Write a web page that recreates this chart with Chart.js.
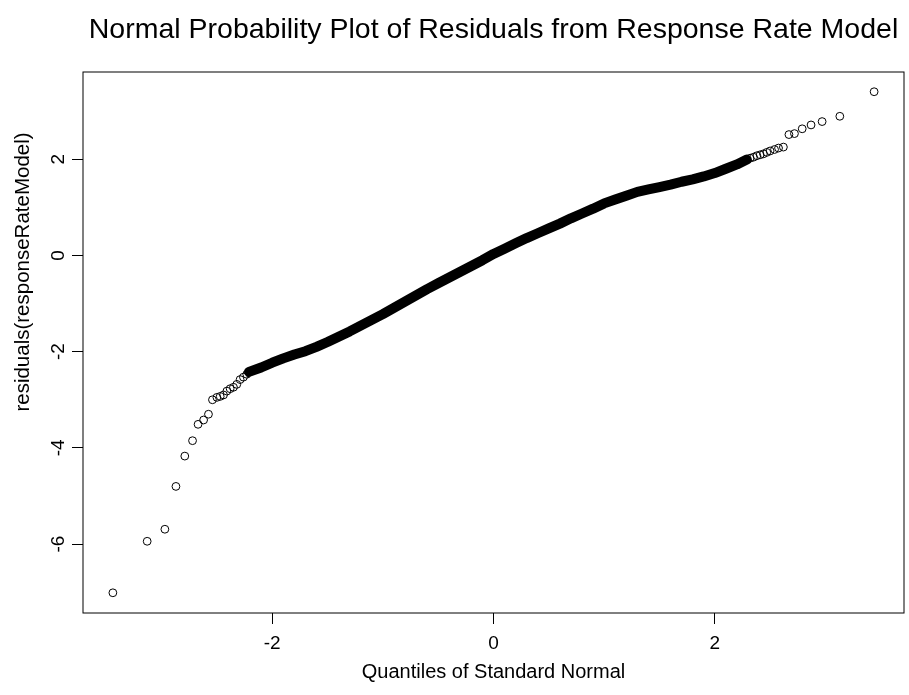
<!DOCTYPE html>
<html>
<head>
<meta charset="utf-8">
<script src="https://cdn.jsdelivr.net/npm/chart.js@4.4.1/dist/chart.umd.min.js"></script>
<style>
  html, body { margin: 0; padding: 0; background: #fff; }
  #wrap { width: 909px; height: 695px; }
</style>
</head>
<body>
<div id="wrap"><canvas id="myChart"></canvas></div>
<script>
// dense middle of the plot (points overlap into a solid band)
let bandX = [-2.21, -2.1, -2.0, -1.9, -1.8, -1.7, -1.6, -1.5, -1.4, -1.3, -1.2, -1.1, -1.0,
  -0.9, -0.8, -0.7, -0.6, -0.5, -0.4, -0.3, -0.2, -0.1, 0, 0.1, 0.2, 0.3, 0.4, 0.5,
  0.6, 0.7, 0.8, 0.9, 1.0, 1.1, 1.2, 1.3, 1.4, 1.5, 1.6, 1.7, 1.8, 1.9, 2.0, 2.1, 2.2, 2.29];
let bandY = [-2.42, -2.33, -2.23, -2.14, -2.06, -1.99, -1.90, -1.80, -1.69, -1.58, -1.46, -1.34, -1.22,
  -1.09, -0.96, -0.83, -0.70, -0.58, -0.46, -0.34, -0.22, -0.10, 0.03, 0.14, 0.25, 0.36, 0.46, 0.56,
  0.66, 0.77, 0.87, 0.97, 1.08, 1.16, 1.24, 1.32, 1.37, 1.42, 1.47, 1.53, 1.58, 1.64, 1.71, 1.80, 1.89, 1.99];

// separate circles in the two tails
let tailX = [-3.44, -3.13, -2.97, -2.87, -2.79, -2.72, -2.67, -2.62, -2.576, -2.54, -2.50, -2.47,
  -2.44, -2.41, -2.38, -2.35, -2.32, -2.29, -2.26, -2.23,
  2.29, 2.32, 2.35, 2.38, 2.41, 2.44, 2.47, 2.50, 2.54, 2.576, 2.62, 2.67, 2.72, 2.79, 2.87, 2.97, 3.13, 3.44];
let tailY = [-7.01, -5.94, -5.69, -4.80, -4.17, -3.85, -3.51, -3.42, -3.30, -3.00, -2.95, -2.93,
  -2.90, -2.82, -2.77, -2.74, -2.68, -2.58, -2.53, -2.47,
  1.99, 2.02, 2.04, 2.07, 2.09, 2.11, 2.14, 2.17, 2.20, 2.23, 2.25, 2.51, 2.53, 2.63, 2.71, 2.78, 2.89, 3.40];

let xTicks = [-2, 0, 2];
let yTicks = [-6, -4, -2, 0, 2];

let band = bandX.map((x, i) => ({ x: x, y: bandY[i] }));
let tails = tailX.map((x, i) => ({ x: x, y: tailY[i] }));

const FONT = "'Liberation Sans', Arial, Helvetica, sans-serif";
const yLabel = "residuals(responseRateModel)";

// box around the plot region (like R's box()) and the y axis label
const frame = {
  id: "frame",
  afterDraw(chart) {
    const a = chart.chartArea;
    const ctx = chart.ctx;
    ctx.save();
    ctx.strokeStyle = "#000";
    ctx.lineWidth = 1;
    ctx.strokeRect(a.left, a.top, a.right - a.left, a.bottom - a.top);

    // ylab sits a bit above the middle of the plot in the original
    ctx.translate(23, 272);
    ctx.rotate(-Math.PI / 2);
    ctx.fillStyle = "#000";
    ctx.font = "20.5px " + FONT;
    ctx.textAlign = "center";
    ctx.textBaseline = "middle";
    ctx.fillText(yLabel, 0, 0);
    ctx.restore();
  }
};

let ctx = document.getElementById("myChart").getContext("2d");
new Chart(ctx, {
  type: "scatter",
  data: {
    datasets: [
      {
        label: "band",
        data: band,
        showLine: true,
        borderColor: "#000",
        borderWidth: 10,
        borderCapStyle: "round",
        borderJoinStyle: "round",
        pointRadius: 0,
        tension: 0
      },
      {
        label: "residuals",
        data: tails,
        pointStyle: "circle",
        pointRadius: 3.9,
        pointBorderWidth: 1,
        borderColor: "#000",
        backgroundColor: "rgba(0,0,0,0)"
      }
    ]
  },
  options: {
    responsive: true,
    maintainAspectRatio: false,
    animation: false,
    layout: { padding: { left: 0, right: 5, top: 0, bottom: 0 } },
    plugins: {
      legend: { display: false },
      tooltip: { enabled: false },
      title: {
        display: true,
        fullSize: false,
        text: "Normal Probability Plot of Residuals from Response Rate Model",
        color: "#000",
        font: { family: FONT, size: 28.5, weight: "normal", lineHeight: 1.2 },
        padding: { top: 13, bottom: 24.8 }
      }
    },
    scales: {
      x: {
        type: "linear",
        min: -3.71,
        max: 3.71,
        afterBuildTicks: axis => { axis.ticks = xTicks.map(v => ({ value: v })); },
        afterFit: axis => { axis.height = 82; },
        border: { display: false },
        grid: { drawOnChartArea: false, drawTicks: true, tickLength: 11, color: "#000" },
        ticks: {
          color: "#000",
          padding: 8,
          maxRotation: 0,
          font: { family: FONT, size: 19 }
        },
        title: {
          display: true,
          text: "Quantiles of Standard Normal",
          color: "#000",
          font: { family: FONT, size: 20, lineHeight: 1.2 },
          padding: { top: 0, bottom: 11 }
        }
      },
      y: {
        type: "linear",
        min: -7.43,
        max: 3.81,
        afterBuildTicks: axis => { axis.ticks = yTicks.map(v => ({ value: v })); },
        afterFit: axis => { axis.width = 83; },
        border: { display: false },
        grid: { drawOnChartArea: false, drawTicks: true, tickLength: 11, color: "#000" },
        ticks: {
          color: "#000",
          padding: 4.5,
          minRotation: 90,
          maxRotation: 90,
          crossAlign: "center",
          font: { family: FONT, size: 19 }
        },
        title: { display: false }
      }
    }
  },
  plugins: [frame]
});
</script>
</body>
</html>
